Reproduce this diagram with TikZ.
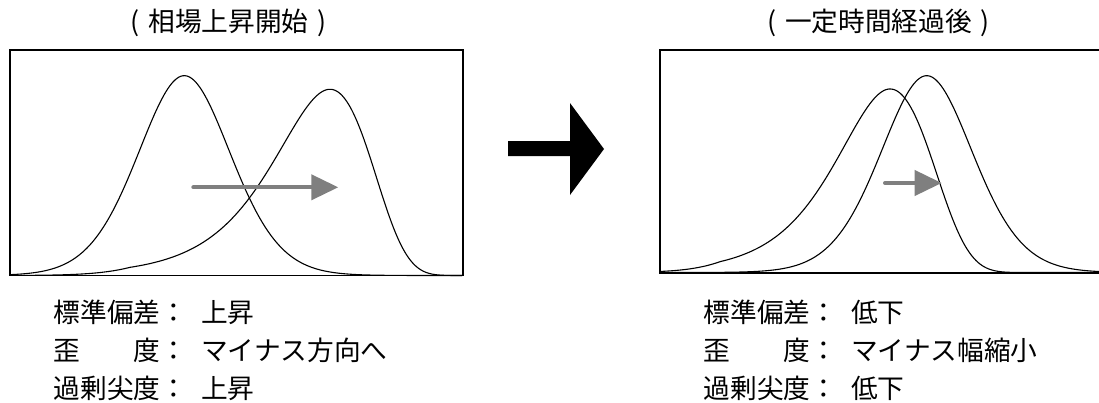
\documentclass[tikz,border=0pt]{standalone}
\usepackage{fontspec}
\setmainfont{Noto Sans CJK JP}
\usetikzlibrary{arrows.meta}
\definecolor{arrowgray}{HTML}{7F7F7F}
\newcommand{\wparen}[1]{\makebox[26.7pt][c]{#1}}
\begin{document}
\begin{tikzpicture}[x=1pt,y=-1pt,
  panelbox/.style={line width=1.6pt, draw=black},
  distcurve/.style={line width=1.1pt, draw=black},
  movearrow/.style={draw=arrowgray, line width=4pt, line cap=round,
    -{Triangle[length=27pt 0 0,width=25pt 0 0,fill=arrowgray]}},
  heading/.style={font=\fontsize{26.7}{32}\selectfont, inner sep=0pt},
  lbl/.style={font=\fontsize{26.7}{32}\selectfont, inner sep=0pt, anchor=west},
  val/.style={font=\fontsize{26.7}{32}\selectfont, inner sep=0pt, anchor=base west},
]
\useasboundingbox (0,0) rectangle (1099,402);

% titles
\node[heading] (t1) at (228.6,22.5) {\wparen{(}相場上昇開始\wparen{)}};
\node[heading] (t2) at (878.5,22.5) {\wparen{(}一定時間経過後\wparen{)}};

% left panel curves
\draw[distcurve] plot[domain=11:462, samples=240]
  (\x, {275.5-199.8*exp(-0.5*(min(4.4,abs(\x-184.3)/(44+0.05*abs(\x-184.3))))^2)});
\draw[distcurve] plot[domain=11:330, samples=170]
  (\x, {275.5-186.2*exp(-0.5*(min(4.4,(330-\x)/(48+0.16*min(330-\x,200))))^2)})
  -- plot[domain=330:462, samples=80]
  (\x, {275.5-186.2*exp(-0.5*(min(4.4,(\x-330)/(48-0.15*(\x-330))))^2)});

% right panel curves
\draw[distcurve] plot[domain=661:890, samples=170]
  (\x, {272.5-183.5*exp(-0.5*(min(4.4,(890-\x)/(46+0.15*min(890-\x,170))))^2)})
  -- plot[domain=890:1099, samples=120]
  (\x, {272.5-183.5*exp(-0.5*(min(4.4,(\x-890)/(48-0.13*(\x-890))))^2)});
\draw[distcurve] plot[domain=661:1099, samples=240]
  (\x, {272.5-196.8*exp(-0.5*(min(4.4,abs(\x-926.7)/(43.5+0.055*abs(\x-926.7))))^2)});

% frames
\draw[panelbox] (10,50) rectangle (463,275.5);
\draw[panelbox] (660,50) rectangle (1104,272.7);

% gray shift arrows
\coordinate (a1s) at (193.3,187.3);
\coordinate (a1e) at (338.3,187.3);
\draw[movearrow] (a1s) -- (a1e);
\coordinate (a2s) at (885,183);
\coordinate (a2e) at (941.7,183);
\draw[movearrow] (a2s) -- (a2e);

% big black arrow
\fill[black] (508,141) -- (570,141) -- (570,103) -- (604,149) -- (570,195) -- (570,156) -- (508,156) -- cycle;

% left texts
\coordinate (vl) at (201,0);
\node[lbl] (l1) at (53.5,312) {標準偏差：};
\node[lbl] (l2) at (53.5,350) {歪　　度：};
\node[lbl] (l3) at (53.5,388) {過剰尖度：};
\node[val] (v1) at (l1.base -| vl) {上昇};
\node[val] (v2) at (l2.base -| vl) {マイナス方向へ};
\node[val] (v3) at (l3.base -| vl) {上昇};

% right texts
\coordinate (vr) at (851,0);
\node[lbl] (r1) at (703.5,312) {標準偏差：};
\node[lbl] (r2) at (703.5,350) {歪　　度：};
\node[lbl] (r3) at (703.5,388) {過剰尖度：};
\node[val] (w1) at (r1.base -| vr) {低下};
\node[val] (w2) at (r2.base -| vr) {マイナス幅縮小};
\node[val] (w3) at (r3.base -| vr) {低下};
\end{tikzpicture}
\end{document}
